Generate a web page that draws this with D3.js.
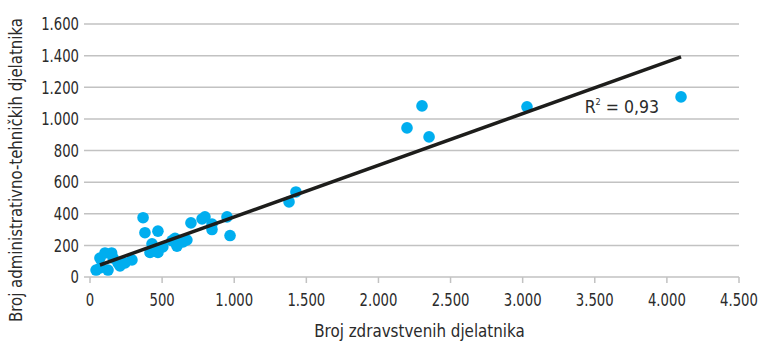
<!DOCTYPE html>
<html><head><meta charset="utf-8">
<script src="https://cdn.jsdelivr.net/npm/d3@7"></script>
<style>body{margin:0;background:#fff}svg{display:block}text{font-family:"DejaVu Sans Condensed","DejaVu Sans",sans-serif;fill:#2b2b2b}</style>
</head><body><svg id="c" width="764" height="343"></svg>
<script>
const xVals = [42,69,69,104,125,150,160,194,208,243,291,
  368,381,471,430,416,471,450,505,569,590,603,645,672,700,777,797,846,846,950,971,
  1380,1428,2198,2302,2351,3030,4098];
const yVals = [44,57,120,152,44,152,120,89,70,89,108,
  375,280,290,210,155,155,175,190,230,245,195,222,234,342,367,380,335,300,380,262,
  475,538,943,1082,886,1076,1139];
const trendX = [69, 4098];
const trendY = [76, 1392];
const xTicks = [0,500,1000,1500,2000,2500,3000,3500,4000,4500];
const yTicks = [0,200,400,600,800,1000,1200,1400,1600];
const xTitle = "Broj zdravstvenih djelatnika";
const yTitle = "Broj administrativno-tehničkih djelatnika";
const r2Label = "= 0,93";

const svg = d3.select("#c");
const x = d3.scaleLinear().domain([0,4500]).range([90,739]);
const y = d3.scaleLinear().domain([0,1600]).range([277,24]);
const fmt = d => d3.format(",")(d).replace(/,/g,".");
function squeeze(sel, f){
  sel.each(function(){
    const w = this.getComputedTextLength();
    d3.select(this).attr("textLength", w*f).attr("lengthAdjust","spacingAndGlyphs");
  });
}

// gridlines
svg.append("g").selectAll("line").data(yTicks.filter(d=>d>0)).join("line")
  .attr("x1",84).attr("x2",739).attr("y1",d=>y(d)).attr("y2",d=>y(d))
  .attr("stroke","#c2c2c2").attr("stroke-width",1.5);
// y labels
svg.append("g").selectAll("text").data(yTicks).join("text")
  .attr("x",79).attr("y",d=>y(d)).attr("dy","0.36em").attr("text-anchor","end")
  .attr("font-size",17.5).text(fmt).call(squeeze,0.84);
// x axis
svg.append("line").attr("x1",84).attr("x2",739).attr("y1",y(0)).attr("y2",y(0))
  .attr("stroke","#c2c2c2").attr("stroke-width",1.5);
svg.append("g").selectAll("line").data(xTicks).join("line")
  .attr("x1",d=>x(d)).attr("x2",d=>x(d)).attr("y1",y(0)).attr("y2",y(0)+6)
  .attr("stroke","#c2c2c2").attr("stroke-width",1.5);
svg.append("g").selectAll("text").data(xTicks).join("text")
  .attr("x",d=>x(d)).attr("y",306).attr("text-anchor","middle")
  .attr("font-size",17.5).text(fmt).call(squeeze,0.84);
// titles
svg.append("text").attr("x",x(2250)+5).attr("y",337).attr("text-anchor","middle")
  .attr("font-size",17.5).text(xTitle).call(squeeze,0.96);
svg.append("text").attr("transform","translate(22,"+((15+325)/2)+") rotate(-90)")
  .attr("text-anchor","middle").attr("font-size",17.5).text(yTitle).call(squeeze,0.95);
// points
svg.append("g").selectAll("circle").data(xVals.map((v,i)=>[v,yVals[i]])).join("circle")
  .attr("cx",d=>x(d[0])).attr("cy",d=>y(d[1])).attr("r",5.8).attr("fill","#00aeef");
// trendline
svg.append("line").attr("x1",x(trendX[0])).attr("y1",y(trendY[0]))
  .attr("x2",x(trendX[1])).attr("y2",y(trendY[1]))
  .attr("stroke","#1d1d1b").attr("stroke-width",3.5);
// R2
const t = svg.append("text").attr("x",x(3430)).attr("y",y(1040)).attr("font-size",17.5);
t.append("tspan").text("R");
t.append("tspan").attr("dy",-8).attr("font-size",9).text("2");
t.append("tspan").attr("dy",8).text(" "+r2Label);
</script></body></html>
